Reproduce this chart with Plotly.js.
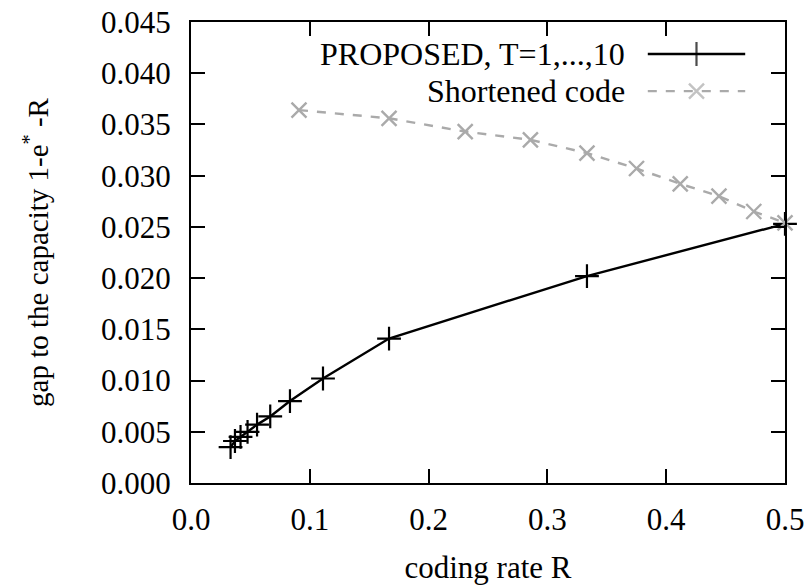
<!DOCTYPE html>
<html>
<head>
<meta charset="utf-8">
<script src="https://cdn.plot.ly/plotly-3.0.1.min.js"></script>
<style>
html,body{margin:0;padding:0;background:#fff;}
#chart{width:810px;height:587px;}
</style>
</head>
<body>
<div id="chart"></div>
<script>
// Data
const proposedRate = [0.5, 0.3333, 0.1667, 0.1111, 0.0833, 0.0667, 0.0556, 0.0476, 0.0417, 0.0370, 0.0333];
const proposedGap  = [0.0253, 0.0202, 0.0141, 0.0102, 0.0080, 0.0065, 0.0057, 0.0050, 0.0045, 0.0041, 0.0035];
const shortRate = [0.0909, 0.1667, 0.2308, 0.2857, 0.3333, 0.3750, 0.4118, 0.4444, 0.4737, 0.5];
const shortGap  = [0.0364, 0.0356, 0.0343, 0.0335, 0.0322, 0.0307, 0.0292, 0.0280, 0.0265, 0.0254];
const seriesNames = ['PROPOSED, T=1,...,10', 'Shortened code'];
const xTickVals = [0.0, 0.1, 0.2, 0.3, 0.4, 0.5];
const yTickVals = [0.000, 0.005, 0.010, 0.015, 0.020, 0.025, 0.030, 0.035, 0.040, 0.045];

const FONT = 'Liberation Serif';
const FS = 31;
const grey = '#aaaaaa';

const traces = [
  {
    x: proposedRate, y: proposedGap, name: seriesNames[0],
    mode: 'lines+markers', type: 'scatter', cliponaxis: false,
    line: {color: '#000', width: 2.4},
    marker: {symbol: 'cross-thin', size: 17, line: {color: '#000', width: 2.2}, color: '#000'},
    showlegend: false
  },
  {
    x: shortRate, y: shortGap, name: seriesNames[1],
    mode: 'lines+markers', type: 'scatter', cliponaxis: false,
    line: {color: grey, width: 2.4, dash: 'dash'},
    marker: {symbol: 'x-thin', size: 15, line: {color: grey, width: 2.4}, color: grey},
    showlegend: false
  },
  // legend samples (gnuplot style: key text then sample)
  {
    x: [0.769, 0.851, 0.933], y: [0.9306, 0.9306, 0.9306], xaxis: 'x2', yaxis: 'y2',
    mode: 'lines+markers', type: 'scatter', cliponaxis: false, hoverinfo: 'skip',
    line: {color: '#000', width: 2.4},
    marker: {symbol: 'cross-thin', size: [0, 17, 0], line: {color: '#000', width: 2.2}},
    showlegend: false
  },
  {
    x: [0.769, 0.851, 0.933], y: [0.850, 0.850, 0.850], xaxis: 'x2', yaxis: 'y2',
    mode: 'lines+markers', type: 'scatter', cliponaxis: false, hoverinfo: 'skip',
    line: {color: grey, width: 2.4, dash: 'dash'},
    marker: {symbol: 'x-thin', size: [0, 15, 0], line: {color: grey, width: 2.4}},
    showlegend: false
  }
];

const axisCommon = {
  showline: true, linecolor: '#000', linewidth: 2, mirror: 'allticks',
  ticks: 'inside', ticklen: 14, tickwidth: 2, tickcolor: '#000',
  showgrid: false, zeroline: false,
  tickfont: {family: FONT, size: FS, color: '#000'},
  automargin: false
};

const layout = {
  width: 810, height: 587,
  margin: {l: 191, r: 25, t: 22, b: 104},
  paper_bgcolor: '#fff', plot_bgcolor: '#fff',
  font: {family: FONT, size: FS, color: '#000'},
  showlegend: false,
  xaxis: Object.assign({}, axisCommon, {
    range: [0, 0.5], tickvals: xTickVals, tickformat: '.1f',
    ticklabelstandoff: 8,
    title: {text: 'coding rate R', font: {family: FONT, size: FS}, standoff: 20}
  }),
  yaxis: Object.assign({}, axisCommon, {
    range: [0, 0.045], tickvals: yTickVals, tickformat: '.3f',
    ticklabelstandoff: 12,
    title: {text: '\u00A0\u00A0\u00A0\u00A0gap to the capacity 1-e<sup>*</sup> -R', font: {family: FONT, size: 29}, standoff: 44}
  }),
  xaxis2: {overlaying: 'x', range: [0, 1], visible: false, fixedrange: true},
  yaxis2: {overlaying: 'y', range: [0, 1], visible: false, fixedrange: true},
  annotations: [
    {xref: 'paper', yref: 'paper', x: 0.734, y: 0.9306, xanchor: 'right', yanchor: 'middle',
     text: seriesNames[0], showarrow: false, font: {family: FONT, size: 32, color: '#000'}},
    {xref: 'paper', yref: 'paper', x: 0.734, y: 0.850, xanchor: 'right', yanchor: 'middle',
     text: seriesNames[1], showarrow: false, font: {family: FONT, size: 32, color: '#000'}}
  ]
};

Plotly.newPlot('chart', traces, layout, {displayModeBar: false, staticPlot: true});
</script>
</body>
</html>
